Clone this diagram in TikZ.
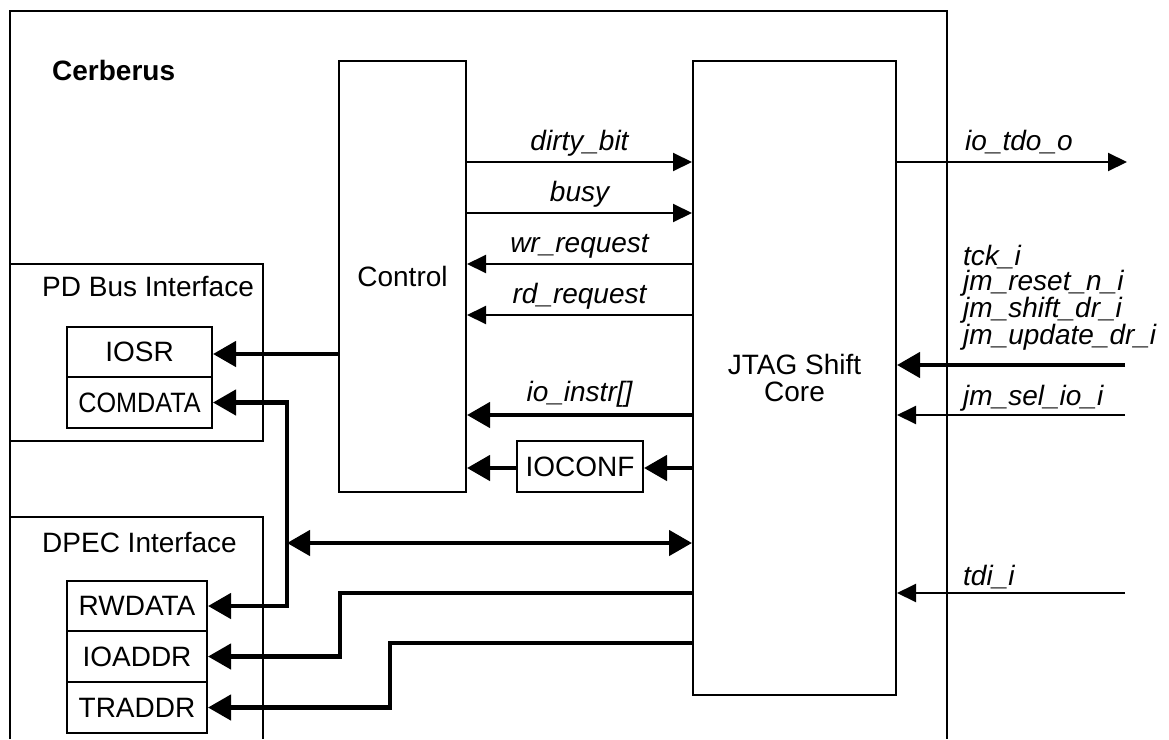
\documentclass[tikz,border=0pt]{standalone}
\usepackage{fontspec}
\usepackage{graphicx}
\setmainfont{Liberation Sans}
\usetikzlibrary{arrows.meta}

\begin{document}
\begin{tikzpicture}[x=1pt, y=-1pt,
    every node/.style={font=\fontsize{28}{27}\selectfont},
    block/.style={draw, line width=2pt, inner sep=0pt, align=center},
    reg/.style={draw, line width=2pt, inner sep=0pt, minimum height=50.5pt},
    sig/.style={font=\fontsize{28}{25.6}\selectfont\itshape, inner sep=0pt},
    wire/.style={line width=2pt, -{Triangle[length=19pt, width=18pt]}},
    bus/.style={line width=4.5pt, -{Triangle[length=23pt, width=25pt]}}
  ]
  \useasboundingbox (0,0) rectangle (1169,739);

  % frames
  \draw[line width=2pt] (10,739) -- (10,11) -- (947,11) -- (947,739);
  \draw[line width=2pt] (10,264) rectangle (263,441);
  \draw[line width=2pt] (10,517) -- (263,517) -- (263,739);
  \node[anchor=base west, inner sep=0pt, font=\fontsize{28}{26}\selectfont\bfseries] (cerb) at (52,80) {Cerberus};
  \node[anchor=base west, inner sep=0pt] (pdbus) at (42,296) {PD Bus Interface};
  \node[anchor=base west, inner sep=0pt] (dpec) at (42,552) {DPEC Interface};

  % blocks
  \node[block, minimum width=127pt, minimum height=431pt] (ctrl) at (402.5,276.5) {Control};
  \node[block, minimum width=203pt, minimum height=634pt] (jtag) at (794.5,378) {JTAG Shift\\Core};
  \node[reg, minimum width=126pt] (ioconf) at (580,466.5) {IOCONF};

  % registers
  \node[reg, minimum width=145pt] (iosr) at (139.5,352) {IOSR};
  \node[reg, minimum width=145pt] (comdata) at (139.5,402.5) {\scalebox{0.9}[1]{COMDATA}};
  \node[reg, minimum width=140pt] (rwdata) at (137,606) {RWDATA};
  \node[reg, minimum width=140pt] (ioaddr) at (137,656.5) {IOADDR};
  \node[reg, minimum width=140pt] (traddr) at (137,707.5) {TRADDR};

  % control <-> shift core
  \draw[wire] (ctrl.east |- 0,162) -- node[sig, anchor=base, yshift=12pt] (dirty) {dirty\_bit} (jtag.west |- 0,162);
  \draw[wire] (ctrl.east |- 0,213) -- node[sig, anchor=base, yshift=12pt] (busy) {busy} (jtag.west |- 0,213);
  \draw[wire] (jtag.west |- 0,264) -- node[sig, anchor=base, yshift=12pt] (wrreq) {wr\_request} (ctrl.east |- 0,264);
  \draw[wire] (jtag.west |- 0,315) -- node[sig, anchor=base, yshift=12pt] (rdreq) {rd\_request} (ctrl.east |- 0,315);
  \draw[bus] (jtag.west |- 0,415) -- node[sig, anchor=base, yshift=14pt] (instr) {io\_instr[]} (ctrl.east |- 0,415);
  \draw[bus] (jtag.west |- 0,468) -- (ioconf.east |- 0,468);
  \draw[bus] (ioconf.west |- 0,468) -- (ctrl.east |- 0,468);

  % pins
  \coordinate (tdo) at (1127,162);
  \coordinate (jmin) at (1125,365);
  \coordinate (selin) at (1125,415);
  \coordinate (tdiin) at (1125,593);
  \draw[wire] (jtag.east |- tdo) -- (tdo);
  \draw[bus] (jmin) -- (jtag.east |- jmin);
  \draw[wire] (selin) -- (jtag.east |- selin);
  \draw[wire] (tdiin) -- (jtag.east |- tdiin);
  \node[sig, anchor=base west] (tdolbl) at (965,150) {io\_tdo\_o};
  \node[sig, anchor=south west, align=left] (jmlbl) at (963,351) {tck\_i\\jm\_reset\_n\_i\\jm\_shift\_dr\_i\\jm\_update\_dr\_i};
  \node[sig, anchor=base west] (sellbl) at (963,405) {jm\_sel\_io\_i};
  \node[sig, anchor=base west] (tdilbl) at (963,585) {tdi\_i};

  % register buses
  \coordinate (busjn) at (287,543);
  \draw[bus] (ctrl.west |- 0,354) -- (iosr.east |- 0,354);
  \draw[bus] (busjn) |- (comdata.east);
  \draw[bus] (busjn) |- (rwdata.east);
  \draw[line width=4.5pt, {Triangle[length=23pt, width=25pt]}-{Triangle[length=23pt, width=25pt]}] (busjn) -- (jtag.west |- busjn);
  \draw[bus] (jtag.west |- 0,593) -- (340,593) |- (ioaddr.east);
  \draw[bus] (jtag.west |- 0,643) -- (390,643) |- (traddr.east);
\end{tikzpicture}
\end{document}
